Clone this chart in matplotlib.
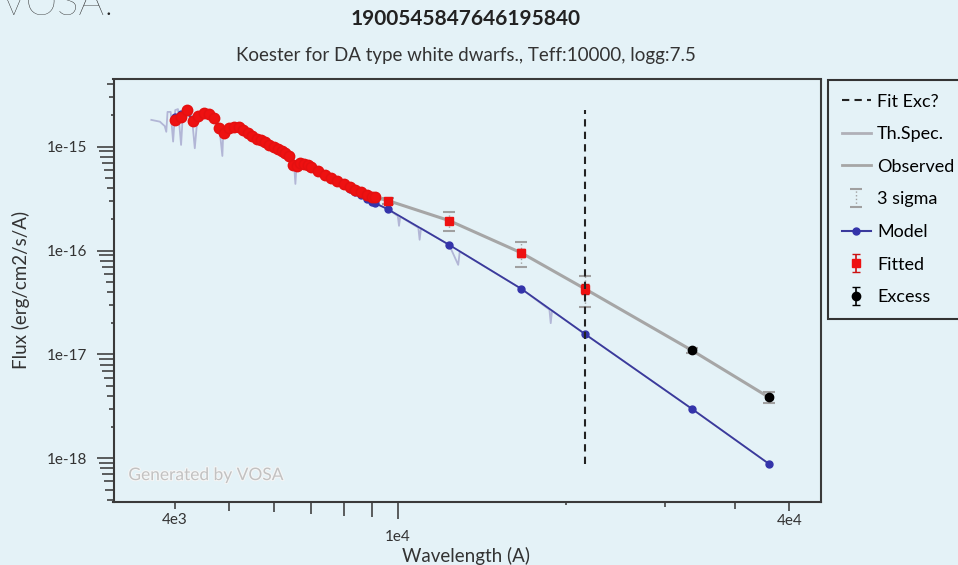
import matplotlib
matplotlib.use("Agg")
import matplotlib.pyplot as plt
import matplotlib.patheffects as pe
import numpy as np
from matplotlib.lines import Line2D
from matplotlib.ticker import FixedLocator, FixedFormatter, NullLocator

plt.rcParams['font.family'] = ['Lato', 'DejaVu Sans']

bg = '#e4f2f7'

title = "1900545847646195840"
subtitle = "Koester for DA type white dwarfs., Teff:10000, logg:7.5"

# Gaia XP points (fitted) and the model at the same wavelengths
xp_wave = [4000, 4100, 4200, 4300, 4400, 4500, 4600, 4700, 4800, 4900, 5000, 5100, 5200, 5300,
           5400, 5500, 5600, 5700, 5800, 5900, 6000, 6100, 6200, 6300, 6400, 6500, 6600, 6700,
           6800, 6900, 7000, 7200, 7400, 7600, 7800, 8000, 8200, 8400, 8600, 8800, 9000, 9100]
xp_flux = [1.81e-15, 1.95e-15, 2.25e-15, 1.75e-15, 1.97e-15, 2.11e-15, 2.06e-15, 1.87e-15, 1.51e-15,
           1.35e-15, 1.51e-15, 1.56e-15, 1.53e-15, 1.44e-15, 1.35e-15, 1.26e-15, 1.19e-15, 1.15e-15,
           1.10e-15, 1.04e-15, 9.96e-16, 9.44e-16, 8.99e-16, 8.62e-16, 8.05e-16, 6.60e-16, 6.45e-16,
           6.91e-16, 6.83e-16, 6.67e-16, 6.42e-16, 5.84e-16, 5.34e-16, 5.00e-16, 4.66e-16, 4.35e-16,
           4.07e-16, 3.82e-16, 3.63e-16, 3.43e-16, 3.31e-16, 3.25e-16]
xp_model = [1.92e-15, 2.05e-15, 2.25e-15, 1.75e-15, 1.97e-15, 2.11e-15, 2.06e-15, 1.87e-15, 1.51e-15,
            1.35e-15, 1.51e-15, 1.56e-15, 1.53e-15, 1.44e-15, 1.35e-15, 1.26e-15, 1.19e-15, 1.15e-15,
            1.10e-15, 1.04e-15, 9.96e-16, 9.44e-16, 8.99e-16, 8.62e-16, 8.05e-16, 6.60e-16, 6.45e-16,
            6.91e-16, 6.83e-16, 6.67e-16, 6.42e-16, 5.84e-16, 5.34e-16, 5.00e-16, 4.66e-16, 4.25e-16,
            3.95e-16, 3.68e-16, 3.45e-16, 3.14e-16, 2.95e-16, 2.86e-16]

# photometry: fitted
phot_wave = [9600, 12350, 16620, 21590]
phot_flux = [3.03e-16, 1.943e-16, 9.50e-17, 4.28e-17]
phot_err1 = [0.07e-16, 0.13e-16, 0.83e-17, 0.47e-17]
phot_err3 = [0.20e-16, 0.39e-16, 2.5e-17, 1.4e-17]
phot_model = [2.50e-16, 1.135e-16, 4.28e-17, 1.571e-17]

# photometry: excess
exc_wave = [33526, 46028]
exc_flux = [1.093e-17, 3.86e-18]
exc_err1 = [0.2e-18, 0.15e-18]
exc_err3 = [0.6e-18, 0.45e-18]
exc_model = [2.99e-18, 8.83e-19]

# theoretical spectrum
spec_wave = [3630, 3760, 3800, 3835, 3860, 3880, 3930, 3970, 4005, 4050, 4102, 4135, 4200, 4285,
             4340, 4390, 4500, 4630, 4745, 4800, 4861, 4880, 5010, 5500, 6000, 6400, 6520, 6563,
             6600, 7000, 8000, 9000, 9550, 10000, 10049, 10100, 10880, 10938, 11000, 12350, 12818,
             12900, 16620, 18650, 18751, 18850, 21590, 33526, 46028]
spec_flux = [1.81e-15, 1.74e-15, 1.65e-15, 1.58e-15, 1.39e-15, 2.16e-15, 2.16e-15, 1.12e-15, 2.25e-15,
             2.30e-15, 1.04e-15, 2.20e-15, 2.30e-15, 2.02e-15, 9.65e-16, 1.97e-15, 2.16e-15, 2.02e-15,
             1.73e-15, 1.55e-15, 8.14e-16, 1.45e-15, 1.58e-15, 1.26e-15, 9.96e-16, 8.03e-16, 7.45e-16,
             4.38e-16, 7.12e-16, 6.42e-16, 4.35e-16, 2.95e-16, 2.55e-16, 2.15e-16, 1.73e-16, 2.12e-16,
             1.66e-16, 1.27e-16, 1.64e-16, 1.135e-16, 7.29e-17, 9.8e-17, 4.28e-17, 2.70e-17, 2.00e-17,
             2.64e-17, 1.571e-17, 2.99e-18, 8.83e-19]

fit_exc_wave = 21590

x_ticks = [4000, 5000, 6000, 7000, 8000, 9000, 10000, 20000, 30000, 40000, 50000]
x_labels = {4000: "4e3", 10000: "1e4", 50000: "4e4"}
y_decades = [-19, -18, -17, -16, -15]

xlim = (3107, 56960)
ylim = (3.83e-19, 4.43e-15)

# ---------------------------------------------------------------
fig = plt.figure(figsize=(9.58, 5.65), dpi=100, facecolor=bg)
ax = fig.add_axes([113.5 / 958, 1 - 501.7 / 565, (821 - 113.5) / 958, (501.7 - 79.5) / 565])
ax.set_facecolor(bg)
ax.set_xscale('log')
ax.set_yscale('log')

obs_w = xp_wave + phot_wave + exc_wave
obs_f = xp_flux + phot_flux + exc_flux
mod_f = xp_model + phot_model + exc_model

ax.plot(spec_wave, spec_flux, color='#b2b6d6', lw=1.3, zorder=1)
ax.plot(obs_w, obs_f, color='#a6a6a6', lw=2.2, zorder=2)
ax.plot(obs_w, mod_f, color='#3a3a9c', lw=1.3, marker='o', ms=5, mfc='#3434aa',
        mec='#3434aa', zorder=3)

ax.plot(xp_wave, xp_flux, 'o', color='#ee1111', ms=7.5, mec='#e41010', zorder=5)

eb3 = ax.errorbar(phot_wave + exc_wave, phot_flux + exc_flux, yerr=phot_err3 + exc_err3,
                  fmt='none', ecolor='#a0a0a0', elinewidth=1, capsize=4, capthick=1.5, zorder=4)
eb3[2][0].set_linestyle(':')
ebf = ax.errorbar(phot_wave, phot_flux, yerr=phot_err1, fmt='s', color='#ee1111', ms=5.5,
                  ecolor='#cc1111', elinewidth=1.2, capsize=3, zorder=6)
ebe = ax.errorbar(exc_wave, exc_flux, yerr=exc_err1, fmt='o', color='black', ms=6,
                  ecolor='black', elinewidth=1.2, capsize=3, zorder=6)

ymin_all = min(mod_f + obs_f)
ymax_all = max(mod_f + obs_f)
ax.plot([fit_exc_wave, fit_exc_wave], [ymin_all, ymax_all], color='#222222', lw=1.5,
        ls=(0, (3.5, 2.5)), zorder=8)

ax.text(0.021, 0.063, "Generated by VOSA", transform=ax.transAxes, fontsize=12.5,
        color='#c2c2c2', va='center', ha='left',
        path_effects=[pe.withStroke(linewidth=1.5, foreground='#f6f6f6')])

ax.set_xlim(*xlim)
ax.set_ylim(*ylim)

# ticks: log ticks whose length grows with the mantissa
y_ticks = [m * 10.0 ** k for k in y_decades for m in range(1, 10)
           if ylim[0] <= m * 10.0 ** k <= ylim[1]]


def tick_len(v):
    e = np.floor(np.log10(v) + 1e-9)
    m = v / 10 ** e
    if abs(m - 1) < 1e-6:
        m = 10
    return 1.7 * m * 0.72


ax.xaxis.set_major_locator(FixedLocator(x_ticks))
ax.xaxis.set_major_formatter(FixedFormatter([x_labels.get(v, "") for v in x_ticks]))
ax.xaxis.set_minor_locator(NullLocator())
ax.yaxis.set_major_locator(FixedLocator(y_ticks))
ax.yaxis.set_major_formatter(FixedFormatter(
    ["1e%d" % round(np.log10(v)) if abs(np.log10(v) - round(np.log10(v))) < 1e-6 else ""
     for v in y_ticks]))
ax.yaxis.set_minor_locator(NullLocator())
ax.tick_params(direction='out', width=1.1, color='#333333', labelsize=11, labelcolor='#333333')
ax.tick_params(axis='x', pad=3)
ax.tick_params(axis='y', pad=7)
for t, v in zip(ax.xaxis.get_major_ticks(len(x_ticks)), x_ticks):
    if v == 10000:
        t._apply_params(size=tick_len(v), pad=8)
    else:
        t._apply_params(size=tick_len(v))
for t, v in zip(ax.yaxis.get_major_ticks(len(y_ticks)), y_ticks):
    t._apply_params(size=tick_len(v))

for s in ax.spines.values():
    s.set_color('#3a3a3a')
    s.set_linewidth(1.5)

fig.text(466 / 958, 1 - 19 / 565, title, ha='center', va='center', fontsize=15,
         fontweight='bold', color='#222222')
fig.text(466 / 958, 1 - 55 / 565, subtitle, ha='center', va='center', fontsize=13.5,
         color='#333333')
fig.text(21 / 958, 1 - 290 / 565, "Flux (erg/cm2/s/A)", rotation=90, ha='center', va='center',
         fontsize=13.5, color='#333333')
fig.text(466 / 958, 1 - 556 / 565, "Wavelength (A)", ha='center', va='center', fontsize=13.5,
         color='#333333')
fig.text(0.0, 1 - 15 / 565, "VOSA.", ha='left', va='baseline', fontsize=29,
         fontweight='light', color='#222222')

handles = [
    Line2D([], [], color='#222222', lw=1.5, ls=(0, (3.5, 2.5))),
    Line2D([], [], color='#b0b0b8', lw=2),
    Line2D([], [], color='#a6a6a6', lw=2),
    eb3,
    Line2D([], [], color='#3a3a9c', lw=1.5, marker='o', ms=5, mfc='#3434aa', mec='#3434aa'),
    ebf,
    ebe,
]
labels = ["Fit Exc?", "Th.Spec.", "Observed", "3 sigma", "Model", "Fitted", "Excess"]
leg = fig.legend(handles, labels, loc='upper left', bbox_to_anchor=(828.3 / 958, 1 - 80 / 565),
                 fontsize=13, frameon=True, fancybox=False, edgecolor='#333333', facecolor=bg,
                 framealpha=1, handlelength=1.6, handletextpad=0.35, labelspacing=0.92,
                 borderpad=0.75, borderaxespad=0)
leg.get_frame().set_linewidth(1.5)

fig.savefig('out.png', dpi=100, facecolor=bg)
